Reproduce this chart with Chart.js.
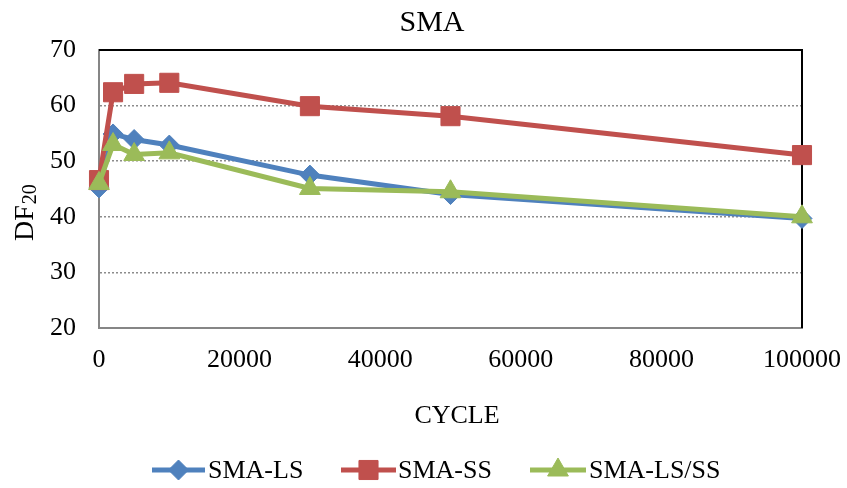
<!DOCTYPE html>
<html>
<head>
<meta charset="utf-8">
<title>SMA</title>
<script src="https://cdn.jsdelivr.net/npm/chart.js@4.4.1/dist/chart.umd.min.js"></script>
<style>
  html, body { margin: 0; padding: 0; background: #fff; }
  canvas { display: block; }
</style>
</head>
<body>
<canvas id="chart" width="847" height="488"></canvas>
<script>
// values
const cycles = [0, 2000, 5000, 10000, 30000, 50000, 100000];
const smaLS = [45.2, 54.9, 53.9, 52.9, 47.5, 44.0, 39.7];
const smaSS = [46.6, 62.4, 63.9, 64.1, 59.9, 58.1, 51.1];
const smaLSSS = [46.0, 53.0, 51.2, 51.5, 45.1, 44.5, 40.0];

const seriesNames = ['SMA-LS', 'SMA-SS', 'SMA-LS/SS'];
const xTicks = [0, 20000, 40000, 60000, 80000, 100000];
const yTicks = [20, 30, 40, 50, 60, 70];

const FONT = "'Liberation Serif', 'Times New Roman', serif";
const BLUE = '#4F81BD', RED = '#C0504D', GREEN = '#9BBB59';

function toPoints(values) {
    return cycles.map((c, i) => ({ x: c, y: values[i] }));
}

// title, axis titles, plot frame and legend
const decorations = {
    id: 'decorations',
    beforeDatasetsDraw(chart) {
        const { ctx, chartArea: a } = chart;
        ctx.save();
        // black frame on top and right
        ctx.strokeStyle = '#000';
        ctx.lineWidth = 2;
        ctx.beginPath();
        ctx.moveTo(a.left, a.top);
        ctx.lineTo(a.right, a.top);
        ctx.lineTo(a.right, a.bottom);
        ctx.stroke();
        ctx.restore();
    },
    afterDraw(chart) {
        const { ctx } = chart;
        ctx.save();
        ctx.fillStyle = '#000';
        ctx.textAlign = 'center';
        ctx.textBaseline = 'middle';
        ctx.font = '30px ' + FONT;
        ctx.fillText('SMA', 432, 23);
        ctx.font = '26px ' + FONT;
        ctx.fillText('CYCLE', 457, 416);

        // y title: DF with subscript 20
        ctx.save();
        ctx.translate(33, 241);
        ctx.rotate(-Math.PI / 2);
        ctx.textAlign = 'left';
        ctx.textBaseline = 'alphabetic';
        ctx.font = '28px ' + FONT;
        ctx.fillText('DF', 0, 0);
        const w = ctx.measureText('DF').width;
        ctx.font = '20px ' + FONT;
        ctx.fillText('20', w + 1, 3);
        ctx.restore();

        // legend
        const items = [
            { x1: 152, x2: 205, tx: 208 },
            { x1: 341, x2: 396, tx: 398 },
            { x1: 530, x2: 586, tx: 589 }
        ];
        const y = 470;
        items.forEach((it, i) => {
            const ds = chart.data.datasets[i];
            ctx.strokeStyle = ds.borderColor;
            ctx.lineWidth = 5;
            ctx.beginPath();
            ctx.moveTo(it.x1, y);
            ctx.lineTo(it.x2, y);
            ctx.stroke();
            ctx.fillStyle = ds.backgroundColor;
            ctx.lineWidth = 1;
            if (Chart.helpers && Chart.helpers.drawPoint) {
                Chart.helpers.drawPoint(ctx, {
                    pointStyle: ds.pointStyle,
                    radius: ds.pointRadius,
                    borderWidth: 1,
                    rotation: 0
                }, (it.x1 + it.x2) / 2, y);
            }
            ctx.fillStyle = '#000';
            ctx.font = '26px ' + FONT;
            ctx.textAlign = 'left';
            ctx.textBaseline = 'middle';
            ctx.fillText(seriesNames[i], it.tx, y + 1);
        });
        ctx.restore();
    }
};

const config = {
    type: 'line',
    data: {
        datasets: [
            {
                label: seriesNames[0],
                data: toPoints(smaLS),
                borderColor: BLUE,
                backgroundColor: BLUE,
                borderWidth: 5,
                pointStyle: 'rectRot',
                pointRadius: 10,
                pointBorderWidth: 1,
                tension: 0,
                clip: false,
                order: 2
            },
            {
                label: seriesNames[1],
                data: toPoints(smaSS),
                borderColor: RED,
                backgroundColor: RED,
                borderWidth: 5,
                pointStyle: 'rect',
                pointRadius: 13.5,
                pointBorderWidth: 1,
                tension: 0,
                clip: false,
                order: 1
            },
            {
                label: seriesNames[2],
                data: toPoints(smaLSSS),
                borderColor: GREEN,
                backgroundColor: GREEN,
                borderWidth: 5,
                pointStyle: 'triangle',
                pointRadius: 12,
                pointBorderWidth: 1,
                tension: 0,
                clip: false,
                order: 0
            }
        ]
    },
    options: {
        responsive: false,
        animation: false,
        devicePixelRatio: 1,
        layout: { padding: { left: 0, right: 45, top: 50, bottom: 0 } },
        plugins: {
            legend: { display: false },
            title: { display: false },
            tooltip: { enabled: false }
        },
        scales: {
            x: {
                type: 'linear',
                min: 0,
                max: 100000,
                afterFit(scale) {
                    scale.height = 160;
                    scale.paddingLeft = 0;
                    scale.paddingRight = 0;
                },
                afterBuildTicks(scale) { scale.ticks = xTicks.map(v => ({ value: v })); },
                ticks: {
                    color: '#000',
                    font: { family: FONT, size: 26 },
                    padding: 17,
                    maxRotation: 0,
                    callback: v => String(v)
                },
                grid: { display: false, drawTicks: false },
                border: { display: true, color: '#868686', width: 2 }
            },
            y: {
                type: 'linear',
                min: 20,
                max: 70,
                afterFit(scale) {
                    scale.width = 99;
                    scale.paddingTop = 0;
                    scale.paddingBottom = 0;
                },
                afterBuildTicks(scale) { scale.ticks = yTicks.map(v => ({ value: v })); },
                ticks: {
                    color: '#000',
                    font: { family: FONT, size: 26 },
                    padding: 23
                },
                grid: {
                    drawTicks: false,
                    lineWidth: 1.5,
                    color: c => (c.tick && c.tick.value > 20 && c.tick.value < 70) ? '#8c8c8c' : 'rgba(0,0,0,0)'
                },
                border: { display: true, color: '#868686', width: 2, dash: [2, 2] }
            }
        }
    },
    plugins: [decorations]
};

new Chart(document.getElementById('chart'), config);
</script>
</body>
</html>
